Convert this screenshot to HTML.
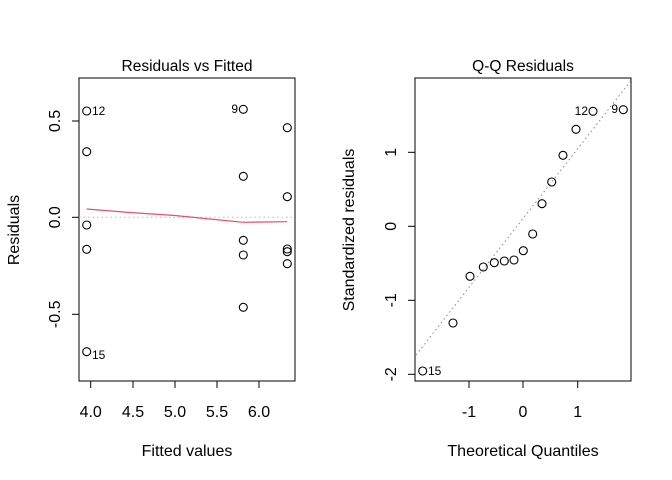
<!DOCTYPE html>
<html><head><meta charset="utf-8"><style>html,body{margin:0;padding:0;background:#fff}svg{display:block}text{font-family:"Liberation Sans",Arial,sans-serif;fill:#000}</style></head>
<body>
<svg width="672" height="480" viewBox="0 0 672 480" xmlns="http://www.w3.org/2000/svg">
<g fill="none" stroke="#000" stroke-width="1">
<rect x="79" y="78" width="216" height="303"/>
<line x1="79" y1="121" x2="79" y2="314"/>
<line x1="72" y1="121" x2="79" y2="121"/><line x1="72" y1="217.3" x2="79" y2="217.3"/><line x1="72" y1="314.3" x2="79" y2="314.3"/>
<line x1="90.7" y1="381" x2="259" y2="381"/>
<line x1="90.7" y1="381" x2="90.7" y2="388"/><line x1="133" y1="381" x2="133" y2="388"/><line x1="175" y1="381" x2="175" y2="388"/><line x1="217" y1="381" x2="217" y2="388"/><line x1="259" y1="381" x2="259" y2="388"/>
<line x1="79" y1="217.3" x2="295" y2="217.3" stroke="#bbb" stroke-dasharray="1.5,3"/>
<polyline points="86.7,209 130,212.5 175,215.5 210,219 243.3,222.3 265,222 287.3,221.7" stroke="#DF536B" stroke-width="1.2"/>
<g stroke-width="1.1">
<circle cx="86.7" cy="111" r="4"/><circle cx="86.7" cy="151.7" r="4"/><circle cx="86.7" cy="225" r="4"/><circle cx="86.7" cy="249.3" r="4"/><circle cx="86.7" cy="351.7" r="4"/>
<circle cx="243.3" cy="109.3" r="4"/><circle cx="243.3" cy="176.3" r="4"/><circle cx="243.3" cy="240.3" r="4"/><circle cx="243.3" cy="255" r="4"/><circle cx="243.3" cy="307.3" r="4"/>
<circle cx="287.3" cy="127.7" r="4"/><circle cx="287.3" cy="196.7" r="4"/><circle cx="287.3" cy="249" r="4"/><circle cx="287.3" cy="251.7" r="4"/><circle cx="287.3" cy="263.7" r="4"/>
</g>
<rect x="415" y="78" width="216" height="303"/>
<line x1="415" y1="152.3" x2="415" y2="374.3"/>
<line x1="408" y1="152.3" x2="415" y2="152.3"/><line x1="408" y1="226.3" x2="415" y2="226.3"/><line x1="408" y1="300.3" x2="415" y2="300.3"/><line x1="408" y1="374.3" x2="415" y2="374.3"/>
<line x1="469" y1="381" x2="577.7" y2="381"/>
<line x1="469" y1="381" x2="469" y2="388"/><line x1="523" y1="381" x2="523" y2="388"/><line x1="577.7" y1="381" x2="577.7" y2="388"/>
<line x1="416" y1="355" x2="631" y2="80.7" stroke="#888" stroke-dasharray="1.5,3"/>
<g stroke-width="1.1">
<circle cx="422.7" cy="371" r="4"/><circle cx="453" cy="323" r="4"/><circle cx="470" cy="276.3" r="4"/><circle cx="483.3" cy="267" r="4"/><circle cx="494.3" cy="262.7" r="4"/><circle cx="504.3" cy="261" r="4"/><circle cx="514" cy="260" r="4"/><circle cx="523.3" cy="250.7" r="4"/><circle cx="532.7" cy="234" r="4"/><circle cx="542" cy="203.7" r="4"/><circle cx="551.7" cy="182" r="4"/><circle cx="563" cy="155.3" r="4"/><circle cx="576" cy="129.3" r="4"/><circle cx="593" cy="111.3" r="4"/><circle cx="623.3" cy="109.7" r="4"/>
</g>
</g>
<text x="187" y="71" font-size="15.5" text-anchor="middle">Residuals vs Fitted</text>
<text x="187" y="456" font-size="16" text-anchor="middle">Fitted values</text>
<text transform="translate(19,230) rotate(-90)" font-size="16" text-anchor="middle">Residuals</text>
<g font-size="16" text-anchor="middle">
<text transform="translate(60,121) rotate(-90)">0.5</text>
<text transform="translate(60,217.3) rotate(-90)">0.0</text>
<text transform="translate(60,314.3) rotate(-90)">-0.5</text>
<text x="90.7" y="417">4.0</text><text x="133" y="417">4.5</text><text x="175" y="417">5.0</text><text x="217" y="417">5.5</text><text x="259" y="417">6.0</text>
<text transform="translate(396,152.3) rotate(-90)">1</text>
<text transform="translate(396,226.3) rotate(-90)">0</text>
<text transform="translate(396,300.3) rotate(-90)">-1</text>
<text transform="translate(396,374.3) rotate(-90)">-2</text>
<text x="469" y="417">-1</text><text x="523" y="417">0</text><text x="577.7" y="417">1</text>
</g>
<g font-size="12">
<text x="92" y="115">12</text>
<text x="238" y="113" text-anchor="end">9</text>
<text x="92" y="359">15</text>
<text x="588" y="115" text-anchor="end">12</text>
<text x="618" y="113" text-anchor="end">9</text>
<text x="428" y="375">15</text>
</g>
<text x="523" y="71" font-size="15.5" text-anchor="middle">Q-Q Residuals</text>
<text x="523" y="456" font-size="16" text-anchor="middle">Theoretical Quantiles</text>
<text transform="translate(354,230) rotate(-90)" font-size="16" text-anchor="middle">Standardized residuals</text>
</svg>
</body></html>
